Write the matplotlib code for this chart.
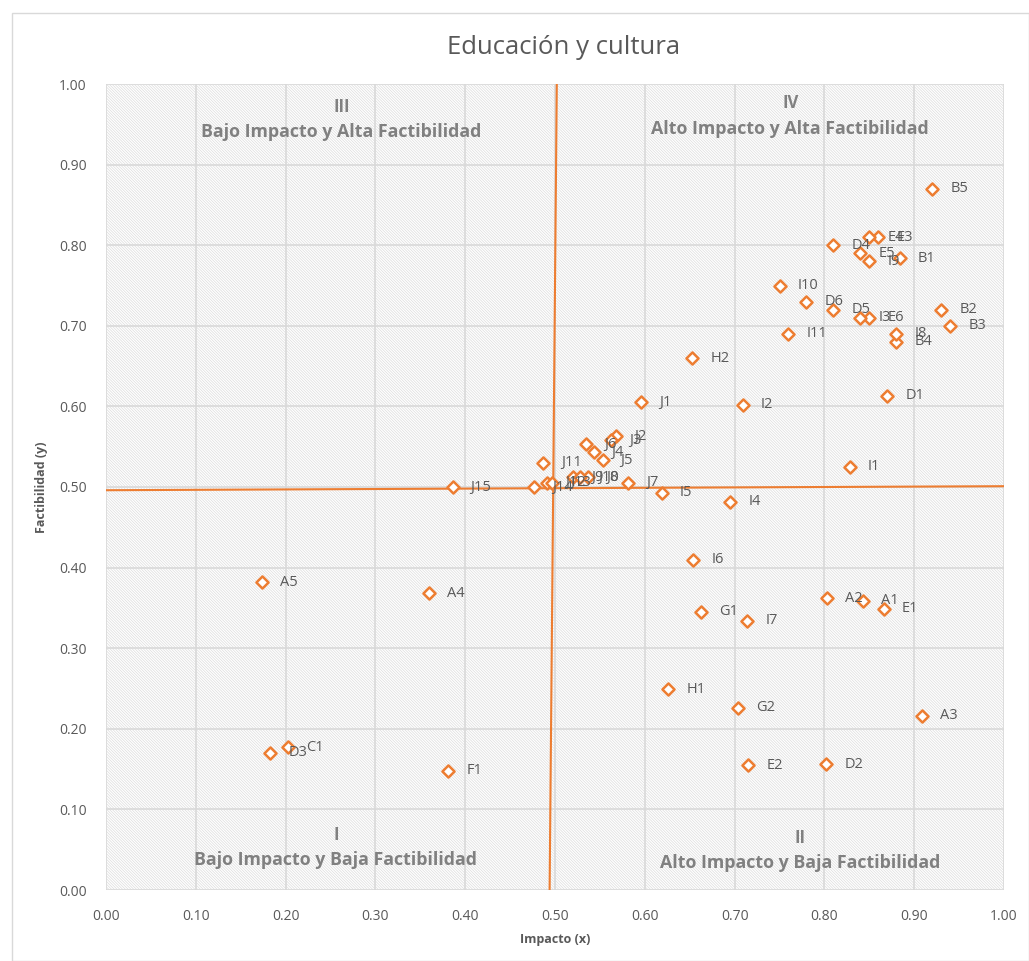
import matplotlib
matplotlib.use("Agg")
import matplotlib.pyplot as plt
from matplotlib.patches import Rectangle

labels = ["A1","A2","A3","A4","A5","B1","B2","B3","B4","B5","C1","D1","D2","D3","D4","D5","D6",
          "E1","E2","E3","E4","E5","E6","F1","G1","G2","H1","H2",
          "I1","I2","I3","I4","I5","I6","I7","I8","I9","I10","I11",
          "J1","J2","J3","J4","J5","J6","J7","J8","J9","J10","J11","J12","J13","J14","J15"]
x_vals = [0.843,0.803,0.909,0.360,0.174,0.884,0.930,0.940,0.880,0.920,0.203,0.870,0.802,0.183,0.810,0.810,0.780,
          0.866,0.715,0.860,0.850,0.840,0.850,0.381,0.663,0.704,0.626,0.653,
          0.828,0.709,0.840,0.695,0.619,0.654,0.714,0.880,0.850,0.750,0.760,
          0.596,0.568,0.562,0.543,0.553,0.535,0.581,0.537,0.520,0.528,0.487,0.491,0.497,0.477,0.386]
y_vals = [0.359,0.362,0.216,0.368,0.382,0.784,0.720,0.700,0.680,0.870,0.177,0.613,0.156,0.170,0.800,0.720,0.730,
          0.349,0.155,0.810,0.810,0.790,0.710,0.148,0.345,0.226,0.249,0.660,
          0.525,0.602,0.710,0.482,0.493,0.410,0.334,0.690,0.780,0.750,0.690,
          0.605,0.563,0.558,0.543,0.533,0.553,0.505,0.512,0.512,0.512,0.530,0.505,0.505,0.500,0.500]

# quadrant divider lines (as drawn in the reference)
vline_x = [0.494, 0.502]
vline_y = [0.0, 1.0]
hline_x = [0.0, 1.0]
hline_y = [0.496, 0.501]

quad_roman = ["III", "IV", "I", "II"]
quad_text = ["Bajo Impacto y Alta Factibilidad", "Alto Impacto y Alta Factibilidad",
             "Bajo Impacto y Baja Factibilidad", "Alto Impacto y Baja Factibilidad"]

ticks = [i / 10 for i in range(11)]
tick_labels = [f"{t:.2f}" for t in ticks]

ORANGE = "#ED7D31"
GRAY = "#595959"

plt.rcParams['font.family'] = ['Open Sans', 'DejaVu Sans']
plt.rcParams['hatch.color'] = '#dcdcdc'
plt.rcParams['hatch.linewidth'] = 0.5

fig = plt.figure(figsize=(10.29, 9.61), dpi=100)
fig.patches.append(Rectangle((12/1029, 0), 1 - 12/1029, 1 - 13/961, transform=fig.transFigure,
                             fill=False, edgecolor='#d9d9d9', linewidth=1))
ax = fig.add_axes([106/1029, 71/961, 898/1029, 806/961])
ax.set_xlim(0, 1)
ax.set_ylim(0, 1)
ax.add_patch(Rectangle((0, 0), 1, 1, facecolor='white', edgecolor='#dcdcdc', linewidth=0,
                       hatch='\\' * 12, zorder=0))
ax.set_xticks(ticks)
ax.set_yticks(ticks)
ax.set_xticklabels(tick_labels)
ax.set_yticklabels(tick_labels)
ax.tick_params(length=0, labelsize=10, labelcolor=GRAY, pad=14)
ax.grid(True, color='#d9d9d9', linewidth=1.2, zorder=1)
ax.set_axisbelow(True)
for s in ax.spines.values():
    s.set_visible(False)

ax.plot(vline_x, vline_y, color=ORANGE, linewidth=1.5, zorder=2)
ax.plot(hline_x, hline_y, color=ORANGE, linewidth=1.5, zorder=2)

ax.scatter(x_vals, y_vals, marker='D', s=38, facecolors='white', edgecolors=ORANGE,
           linewidths=1.8, zorder=3)
for lab, xv, yv in zip(labels, x_vals, y_vals):
    ax.annotate(lab, (xv, yv), xytext=(13, 0), textcoords='offset points',
                va='center', ha='left', fontsize=10.5, color=GRAY, zorder=4)

qpos = [(0.262, 0.972, 0.940), (0.762, 0.976, 0.944), (0.256, 0.068, 0.037), (0.773, 0.065, 0.034)]
for r, t, (qx, qy1, qy2) in zip(quad_roman, quad_text, qpos):
    ax.text(qx, qy1, r, ha='center', va='center', fontsize=12, fontweight='bold', color='#808080', zorder=4)
    ax.text(qx, qy2, t, ha='center', va='center', fontsize=12.8, fontweight='bold', color='#808080', zorder=4)

ax.set_xlabel("Impacto (x)", fontsize=9, fontweight='bold', color=GRAY, labelpad=6)
ax.set_ylabel("Factibilidad (y)", fontsize=9, fontweight='bold', color=GRAY, labelpad=8)
fig.text(564/1029, 1 - 47/961, "Educación y cultura", ha='center', va='center',
         fontsize=18.5, color=GRAY)

fig.savefig("out.png", dpi=100)
